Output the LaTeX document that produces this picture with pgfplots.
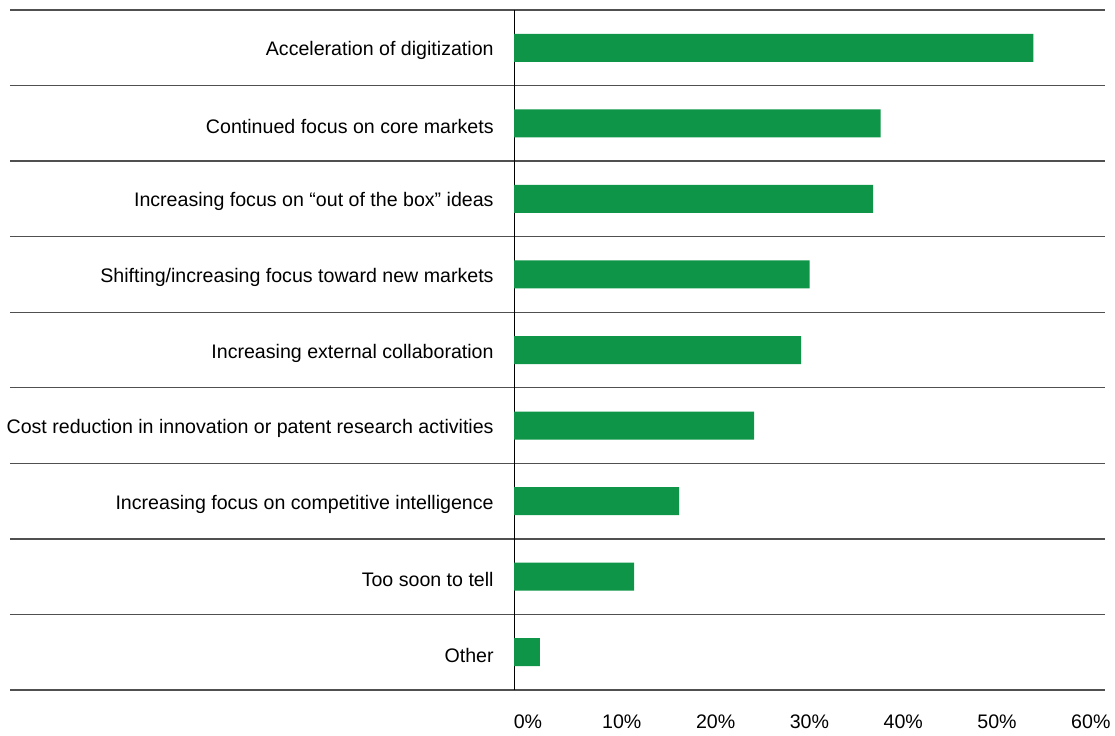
\documentclass[border=0pt]{standalone}
\usepackage{pgfplots}
\pgfplotsset{compat=1.18}
\usepackage{fontspec}
\setmainfont{Liberation Sans}
\definecolor{barGreen}{RGB}{14,149,71}
\definecolor{sepGray}{RGB}{80,80,80}

\begin{document}
\begin{tikzpicture}[font=\fontsize{9.8}{11}\selectfont]
  \begin{axis}[
      name=ax,
      xbar,
      bar width=14pt,
      width=547.5pt, height=340pt, scale only axis,
      xmin=-52.5, xmax=61.56,
      ymin=-0.5, ymax=8.5,
      y dir=reverse,
      axis line style={draw=none},
      xtick={0,10,...,60},
      xticklabels={0\%,10\%,20\%,30\%,40\%,50\%,60\%},
      xticklabel style={anchor=base, yshift=-19pt, xshift={(7-1.1*\ticknum)*1pt}},
      ytick={0,...,8},
      yticklabels={
        Acceleration of digitization,
        Continued focus on core markets,
        Increasing focus on “out of the box” ideas,
        Shifting/increasing focus toward new markets,
        Increasing external collaboration,
        Cost reduction in innovation or patent research activities,
        Increasing focus on competitive intelligence,
        Too soon to tell,
        Other},
      yticklabel style={anchor=east, inner sep=0pt, xshift=242pt, yshift=-1.5pt},
      minor ytick={-0.5,0.5,...,8.5},
      yminorgrids,
      minor grid style={sepGray, line width=0.7pt},
      major tick length=0, minor tick length=0,
      extra x ticks={0},
      extra x tick labels={},
      extra x tick style={grid=major, major grid style={black, line width=0.5pt}},
    ]
    \addplot[fill=barGreen, draw=none] coordinates {
      (54.1,0)
      (38.2,1)
      (37.4,2)
      (30.8,3)
      (29.9,4)
      (25.0,5)
      (17.2,6)
      (12.5,7)
      (2.7,8)
    };
  \end{axis}
  \pgfresetboundingbox
  \path ([shift={(-5pt,-22.5pt)}]ax.south west) rectangle ([shift={(5pt,5pt)}]ax.north east);
\end{tikzpicture}
\end{document}
